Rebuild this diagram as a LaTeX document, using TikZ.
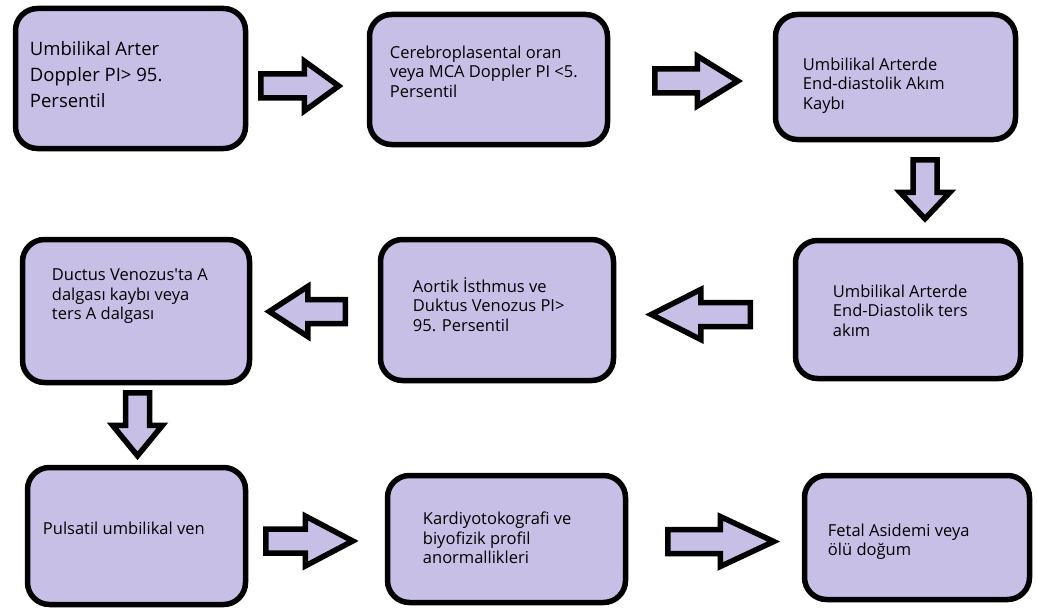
\documentclass[tikz,border=0pt]{standalone}
\usepackage{fontspec}
\setmainfont{Open Sans}
\usetikzlibrary{calc}
\definecolor{lav}{HTML}{C8BFE7}
\tikzstyle{box} = [rectangle, rounded corners=22pt, draw=black, line width=5.5pt, fill=lav]
\tikzstyle{txt} = [anchor=north west, inner sep=0pt, align=left, text=black, font=\fontsize{16.5}{19.5}\selectfont]
\tikzset{fat/.style={draw=black, line width=5.5pt, fill=lav, to path={let \p1=(\tikztostart), \p2=(\tikztotarget),
      \n1={atan2(\y2-\y1,\x2-\x1)}, \n2={veclen(\x2-\x1,\y2-\y1)} in
      ([shift={(\p1)},rotate=\n1]0pt,12pt) -- ([shift={(\p1)},rotate=\n1]\n2-#1,12pt)
      -- ([shift={(\p1)},rotate=\n1]\n2-#1,25pt) -- ([shift={(\p1)},rotate=\n1]\n2,0pt)
      -- ([shift={(\p1)},rotate=\n1]\n2-#1,-25pt) -- ([shift={(\p1)},rotate=\n1]\n2-#1,-12pt)
      -- ([shift={(\p1)},rotate=\n1]0pt,-12pt) -- cycle}},
  fat/.default=40pt}

\begin{document}
\begin{tikzpicture}[x=1pt, y=-1pt]
      \useasboundingbox (0,0) rectangle (1037,610);

      % first row
      \node (b1) [box, minimum width=230pt, minimum height=140pt] at (130.5,78.5) {};
      \node (b2) [box, minimum width=238pt, minimum height=130pt] at (488.5,79.5) {};
      \node (b3) [box, minimum width=240pt, minimum height=125pt] at (895.5,77) {};
      % second row
      \node (b4) [box, minimum width=225pt, minimum height=138pt] at (908,309.5) {};
      \node (b5) [box, minimum width=233pt, minimum height=141pt] at (497,310) {};
      \node (b6) [box, minimum width=227pt, minimum height=143pt] at (136,311) {};
      % third row
      \node (b7) [box, minimum width=218pt, minimum height=137pt] at (136.5,536) {};
      \node (b8) [box, minimum width=238pt, minimum height=127pt] at (506.5,539) {};
      \node (b9) [box, minimum width=225pt, minimum height=124pt] at (917,537.5) {};

      \node (t1) [txt, font=\fontsize{18.5}{26}\selectfont] at ([xshift=17pt,yshift=-35pt]b1.north west) {Umbilikal Arter\\Doppler PI> 95.\\Persentil};
      \node (t2) [txt] at ([xshift=23pt,yshift=-34pt]b2.north west) {Cerebroplasental oran\\veya MCA Doppler PI <5.\\Persentil};
      \node (t3) [txt] at ([xshift=30pt,yshift=-46pt]b3.north west) {Umbilikal Arterde\\End-diastolik Akım\\Kaybı};
      \node (t4) [txt] at ([xshift=40pt,yshift=-47pt]b4.north west) {Umbilikal Arterde\\End-Diastolik ters\\akım};
      \node (t5) [txt] at ([xshift=35pt,yshift=-40.5pt]b5.north west) {Aortik İsthmus ve\\Duktus Venozus PI>\\95. Persentil};
      \node (t6) [txt] at ([xshift=32pt,yshift=-32pt]b6.north west) {Ductus Venozus\textquotesingle ta A\\dalgası kaybı veya\\ters A dalgası};
      \node (t7) [txt] at ([xshift=18pt,yshift=-57pt]b7.north west) {Pulsatil umbilikal ven};
      \node (t8) [txt] at ([xshift=38pt,yshift=-39pt]b8.north west) {Kardiyotokografi ve\\biyofizik profil\\anormallikleri};
      \node (t9) [txt] at ([xshift=26pt,yshift=-51pt]b9.north west) {Fetal Asidemi veya\\ölü doğum};

      \draw [fat=34.5pt] ([xshift=12.5pt,yshift=-7.5pt]b1.east) coordinate (a1) to ([xshift=-28pt]b2.west |- a1);
      \draw [fat=40.5pt] ([xshift=44.5pt,yshift=-1.5pt]b2.east) coordinate (a2) to ([xshift=-35pt]b3.west |- a2);
      \draw [fat=26.5pt] ([xshift=29.5pt,yshift=-17.5pt]b3.south) coordinate (a3) to ([yshift=19pt]b4.north -| a3);
      \draw [fat=49.5pt] ([xshift=-42.5pt,yshift=-5pt]b4.west) coordinate (a4) to ([xshift=35pt]b5.east |- a4);
      \draw [fat=38.5pt] ([xshift=-32.5pt,yshift=-1.5pt]b5.west) coordinate (a5) to ([xshift=17pt]b6.east |- a5);
      \draw [fat=30.5pt] ([xshift=1.5pt,yshift=-7.5pt]b6.south) coordinate (a6) to ([yshift=9pt]b7.north -| a6);
      \draw [fat=47.5pt] ([xshift=17.5pt,yshift=-5pt]b7.east) coordinate (a7) to ([xshift=-32pt]b8.west |- a7);
      \draw [fat=53.5pt] ([xshift=39.5pt,yshift=-2.5pt]b8.east) coordinate (a8) to ([xshift=-28pt]b9.west |- a8);
\end{tikzpicture}
\end{document}
